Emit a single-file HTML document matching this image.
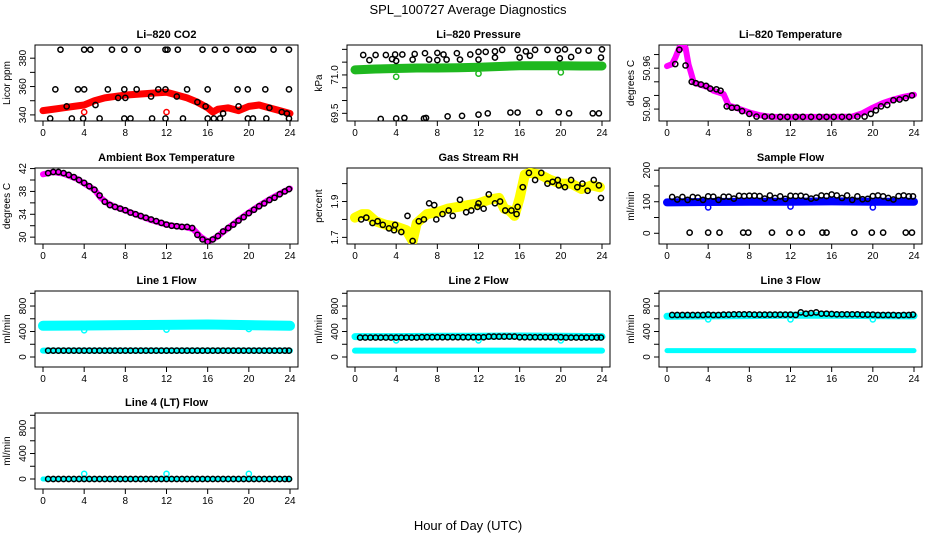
<!DOCTYPE html>
<html><head><meta charset="utf-8">
<style>
html,body{margin:0;padding:0;background:#fff;}
svg{display:block;font-family:"Liberation Sans",sans-serif;}
</style></head>
<body>
<svg id="chart" width="936" height="540" viewBox="0 0 936 540" xmlns="http://www.w3.org/2000/svg">
<text x="468" y="14" text-anchor="middle" font-size="13">SPL_100727  Average Diagnostics</text>
<text x="468" y="530" text-anchor="middle" font-size="13">Hour of Day (UTC)</text>
</svg>
<script>
// ---- data arrays ----
const xTicks=[0,4,8,12,16,20,24];
const flowHours=[0.5,1,1.5,2,2.5,3,3.5,4,4.5,5,5.5,6,6.5,7,7.5,8,8.5,9,9.5,10,10.5,11,11.5,12,12.5,13,13.5,14,14.5,15,15.5,16,16.5,17,17.5,18,18.5,19,19.5,20,20.5,21,21.5,22,22.5,23,23.5,23.9];
const outlierHours=[4,12,20];

// CO2
const co2BandH=[0,1,2,3,4,5,6,7,8,9,10,11,12,13,14,15,16,16.5,17,18,19,20,21,22,23,24];
const co2BandV=[343,344,345,346,347,350,352,353,354,354.5,355,355.5,356,354,352,349,345,342,344,345,343,346,347,345,343,341];
const co2CircH=[1.7,4,4.6,6.7,7.9,9.2,11.9,12.1,13.1,15.5,16.7,17.8,19.1,19.9,20.4,22.4,23.9,1.2,3.4,4,6.3,7.9,9.1,11.2,11.9,14,16,18.9,19.9,21.6,23.9,0.7,2.8,3.9,5.5,7.9,8.5,10.6,11.9,13.6,16,16.6,17.2,19.9,20.4,21.7,23.9,2.3,5.1,7.3,8,10.5,13,15,15.8,17.5,19,22,23.2,23.7];
const co2CircV=[386,386,386,386,386,386,386,386,386,386,386,386,386,386,386,386,386,358,358,358,358,358,358,358,358,358,358,358,358,358,358,337.5,337.5,337.5,337.5,337.5,337.5,337.5,337.5,337.5,337.5,337.5,337.5,337.5,337.5,337.5,337.5,346,347,352,352,353,353,349,346,341,346,345,342,341];
const co2OutH=[4,12];
const co2OutV=[342,342];
// Pressure
const presBandH=[0,2,4,6,8,10,12,14,16,18,20,22,24];
const presBandV=[71.2,71.23,71.25,71.27,71.27,71.28,71.3,71.33,71.36,71.36,71.36,71.35,71.35];
const presCircH=[0.8,2,3,3.9,4.6,5.8,6.8,8,8.6,9.9,11.2,12,12.7,13.6,14.3,15.8,16.6,17.5,18.7,19.7,20.4,21.7,22.7,24,1.4,3.6,4,5.6,7.2,8,8.9,10.2,12,13.6,16,17,19.9,21,23.9,2.5,4,4.8,6.7,6.9,9,10.4,12,12.9,15.1,15.8,17.9,19.8,20.8,23.1,23.7];
const presCircV=[71.78,71.78,71.78,71.8,71.8,71.82,71.85,71.86,71.8,71.85,71.8,71.9,71.9,71.92,71.98,71.98,71.92,71.98,71.98,71.97,72.0,71.95,71.95,72.0,71.58,71.62,71.55,71.6,71.6,71.58,71.6,71.6,71.6,71.68,71.68,71.75,71.65,71.7,71.68,69.28,69.3,69.32,69.3,69.32,69.38,69.4,69.45,69.5,69.53,69.53,69.53,69.54,69.5,69.5,69.5];
const presOutV=[70.93,71.05,71.1];
// Li-820 temperature
const tempBandH=[0,0.5,0.8,1.2,1.8,2.1,2.3,2.6,3,4,4.5,5.5,6,6.5,8,9,10,12,14,16,18,19,20,21,22,23,24];
const tempBandV=[50.963,50.966,50.975,50.99,50.99,50.965,50.955,50.939,50.937,50.932,50.927,50.922,50.905,50.903,50.895,50.891,50.8888,50.8885,50.8885,50.8885,50.889,50.894,50.902,50.909,50.914,50.918,50.921];
const tempCircH=[0.8,1.2,1.8,2.4,2.8,3.3,3.8,4.2,4.8,5.2,5.8,6.3,6.8,7.3,8,8.7,9.5,10.2,11,11.7,12.5,13.2,14,14.8,15.5,16.2,17,17.7,18.5,19.2,19.8,20.3,20.8,21.4,22,22.6,23.2,23.8];
const tempCircV=[50.966,50.987,50.964,50.94,50.938,50.936,50.934,50.93,50.929,50.927,50.904,50.902,50.902,50.897,50.893,50.889,50.889,50.889,50.8885,50.8885,50.8885,50.8885,50.8885,50.8885,50.8885,50.8885,50.8885,50.8885,50.889,50.889,50.893,50.898,50.904,50.906,50.913,50.914,50.916,50.92];
// Ambient box temperature
const ambBandH=[0,1,2,3.3,4,5,5.6,6.2,7,7.5,9,10.5,12,13,14,14.6,15.3,16,16.5,17,18,19,20,21,22,23,24];
const ambBandV=[41.0,41.4,41.1,40.2,39.4,38.3,36.9,36,35.3,35,34,33,32.2,31.9,31.7,31.4,30.1,29.2,29.6,30.2,31.6,33,34.3,35.5,36.6,37.6,38.5];
const ambCircH=[0.5,1,1.5,2,2.5,3,3.5,4,4.5,5,5.5,6,6.5,7,7.5,8,8.5,9,9.5,10,10.5,11,11.5,12,12.5,13,13.5,14,14.5,15,15.5,16,16.5,17,17.5,18,18.5,19,19.5,20,20.5,21,21.5,22,22.5,23,23.5,23.9];
const ambCircV=[41.2,41.4,41.4,41.2,40.9,40.5,40.0,39.5,38.9,38.3,37.3,36.2,35.6,35.3,35.0,34.7,34.3,34.0,33.7,33.4,33.1,32.8,32.5,32.2,32.0,31.9,31.8,31.8,31.6,30.4,29.6,29.2,29.6,30.2,31.0,31.6,32.2,32.9,33.5,34.2,34.8,35.4,35.9,36.5,36.9,37.5,38.0,38.4];
// Gas stream RH
const rhBandH=[0,0.7,1.2,2,3,4,5,5.6,6,7,8,9,10,11,12,13,14,14.5,15,15.5,16,16.5,17,18,19,20,21,22,23,23.8];
const rhBandV=[1.81,1.83,1.83,1.79,1.77,1.76,1.74,1.68,1.78,1.83,1.84,1.86,1.87,1.88,1.89,1.91,1.92,1.86,1.85,1.82,1.92,2.05,2.06,2.05,2.02,2.0,2.0,1.97,1.99,1.98];
const rhCircH=[0.6,1.1,1.7,2.2,2.7,3.3,3.8,3.9,4.5,5.1,5.6,6.2,6.7,7.2,7.7,7.9,8.5,9.1,9.5,10.2,10.8,11.3,11.9,12,12.5,13,13.6,14.1,14.6,15.2,15.7,15.8,16.3,16.9,17.5,18.1,18.7,19.2,19.7,19.8,20.4,21,21.6,22.1,22.6,23.2,23.7,23.9];
const rhCircV=[1.80,1.81,1.78,1.79,1.77,1.75,1.74,1.77,1.73,1.82,1.68,1.79,1.80,1.89,1.88,1.80,1.83,1.85,1.82,1.91,1.84,1.85,1.87,1.89,1.86,1.94,1.89,1.90,1.85,1.85,1.83,1.87,1.98,2.06,2.02,2.06,2.0,2.01,2.02,1.99,1.98,2.02,1.98,2.0,1.96,2.02,1.99,1.92];
// Sample flow
const sampBandH=[0,4,8,12,16,20,24];
const sampBandV=[98,99,100,100,101,100,100];
const sampCircV=[115,107,115,106,115,113,106,117,116,106,116,116,110,119,118,119,119,118,110,120,112,117,109,119,118,119,116,110,113,120,118,123,120,112,120,106,117,108,109,118,120,117,112,107,118,120,117,117];
const sampZeroH=[2.2,4,5.1,7.4,7.9,10.2,11.9,13.1,15.1,15.5,18.2,19.9,21,23.2,23.8];
const sampZeroV=[2,2,2,2,2,2,2,2,2,2,2,2,2,2,2];
const sampOutV=[82,85,82];
// Line flows
const l1HighH=[0,4,8,12,16,20,24];
const l1HighV=[490,495,500,505,510,500,490];
const l1LowV=[100,100,100,100,100,100,100];
const l1CircV=[100,100,100,100,100,100,100,100,100,100,100,100,100,100,100,100,100,100,100,100,100,100,100,100,100,100,100,100,100,100,100,100,100,100,100,100,100,100,100,100,100,100,100,100,100,100,100,100];
const l1OutV=[420,430,440];
const l2HighV=[320,320,325,325,330,325,320];
const l2LowV=[100,100,100,100,100,100,100];
const l2CircV=[305,305,305,305,305,305,305,305,305,305,305,305,310,310,310,310,310,310,310,310,310,310,310,310,310,320,320,320,320,320,320,310,310,310,310,310,310,310,310,310,305,305,305,305,305,305,305,305];
const l2OutV=[260,260,260];
const l3HighV=[640,645,650,655,655,650,645];
const l3LowV=[100,100,100,100,100,100,100];
const l3CircV=[660,660,660,660,660,660,660,665,660,660,665,665,670,670,670,670,665,665,665,665,665,665,665,665,660,700,680,690,700,680,680,675,670,670,670,670,670,665,665,665,660,660,660,660,655,660,660,665];
const l3OutV=[590,590,590];
const l4BandV=[0,0,0,0,0,0,0];
const l4CircV=[0,0,0,0,0,0,0,0,0,0,0,0,0,0,0,0,0,0,0,0,0,0,0,0,0,0,0,0,0,0,0,0,0,0,0,0,0,0,0,0,0,0,0,0,0,0,0,0];
const l4OutV=[80,80,80];

// ---- drawing ----
const svg=document.getElementById('chart');
const NS='http://www.w3.org/2000/svg';
const colX=[35,347,659], rowY=[45,168,291,413], PW=263, PH=76;
function mk(tag,attrs,parent){const e=document.createElementNS(NS,tag);for(const k in attrs)e.setAttribute(k,attrs[k]);(parent||svg).appendChild(e);return e;}

function panel(col,row,slug,title,ylab,ylim,yticks,ylabels,draw){
  const L=colX[col],T=rowY[row];
  const g=mk('g',{});
  
  
  const xs=h=>L+8+h*247/24;
  const ys=v=>T+PH-(v-ylim[0])/(ylim[1]-ylim[0])*PH;
  const t=mk('text',{x:L+PW/2,y:T-7,'text-anchor':'middle','font-size':11,'font-weight':'bold'},g);
  t.textContent=title;
  
  
  const box=mk('rect',{x:L,y:T,width:PW,height:PH,fill:'none',stroke:'#000','stroke-width':1},g);
  
  
  const xa=mk('g',{},g);
  
  
  mk('line',{x1:xs(xTicks[0]),x2:xs(xTicks[xTicks.length-1]),y1:T+PH,y2:T+PH,stroke:'#000'},xa);
  xTicks.forEach(v=>{
    mk('line',{x1:xs(v),x2:xs(v),y1:T+PH,y2:T+PH+5,stroke:'#000'},xa);
    const tl=mk('text',{x:xs(v),y:T+PH+15,'text-anchor':'middle','font-size':10},xa);
    tl.textContent=v;
    
    
  });
  const ya=mk('g',{},g);
  
  
  mk('line',{x1:L,x2:L,y1:ys(yticks[0]),y2:ys(yticks[yticks.length-1]),stroke:'#000'},ya);
  yticks.forEach(v=>{mk('line',{x1:L-5,x2:L,y1:ys(v),y2:ys(v),stroke:'#000'},ya);});
  ylabels.forEach(v=>{
    const yy=ys(parseFloat(v));
    const tl=mk('text',{x:L-9,y:yy,'text-anchor':'middle','font-size':10,transform:`rotate(-90 ${L-9} ${yy})`},ya);
    tl.textContent=v;
    
    
  });
  const yl=mk('text',{x:L-25,y:T+PH/2,'text-anchor':'middle','font-size':10,transform:`rotate(-90 ${L-25} ${T+PH/2})`},g);
  yl.textContent=ylab;
  
  
  const clip='clip'+slug;
  const cp=mk('clipPath',{id:clip},g);mk('rect',{x:L,y:T,width:PW,height:PH},cp);
  const dg=mk('g',{'clip-path':`url(#${clip})`},g);
  const api={
    band(hs,vs,color,w,name){
      const p=mk('polyline',{points:hs.map((h,i)=>xs(h)+','+ys(vs[i])).join(' '),fill:'none',stroke:color,'stroke-width':w,'stroke-linejoin':'round','stroke-linecap':'round'},dg);
      
      
    },
    pts(hs,vs,color,name,r){
      const pg=mk('g',{},dg);
      
      
      hs.forEach((h,i)=>{
        const c=mk('circle',{cx:xs(h),cy:ys(vs[i]),r:r||2.6,fill:'none',stroke:color,'stroke-width':1.5},pg);
        
        
      });
    }
  };
  draw(api);
}
const BLK='#000', CY='#00ffff';
panel(0,0,'co2','Li\u2013820 CO2','Licor ppm',[335.7,389.3],[340,350,360,370,380],['340','360','380'],a=>{
  a.band(co2BandH,co2BandV,'#ff0000',7,'red-band');
  a.pts(co2OutH,co2OutV,'#ff0000','red-outliers');
  a.pts(co2CircH,co2CircV,BLK,'black-points');
});
panel(1,0,'pressure','Li\u2013820 Pressure','kPa',[69.2,72.17],[69.5,70,70.5,71,71.5,72],['69.5','71.0'],a=>{
  a.band(presBandH,presBandV,'#1fb81f',9,'green-band');
  a.pts(outlierHours,presOutV,'#1fb81f','green-outliers');
  a.pts(presCircH,presCircV,BLK,'black-points');
});
panel(2,0,'temperature','Li\u2013820 Temperature','degrees C',[50.8825,50.994],[50.90,50.92,50.94,50.96,50.98],['50.90','50.96'],a=>{
  a.band(tempBandH,tempBandV,'#ff00ff',6,'magenta-band');
  a.pts(tempCircH,tempCircV,BLK,'black-points');
});
panel(0,1,'ambient','Ambient Box Temperature','degrees C',[28.8,42.1],[30,32,34,36,38,40,42],['30','34','38','42'],a=>{
  a.band(ambBandH,ambBandV,'#ff00ff',6,'magenta-band');
  a.pts(ambCircH,ambCircV,BLK,'black-points');
});
panel(1,1,'rh','Gas Stream RH','percent',[1.663,2.087],[1.7,1.8,1.9,2.0],['1.7','1.9'],a=>{
  a.band(rhBandH,rhBandV,'#ffff00',10,'yellow-band');
  a.pts(rhCircH,rhCircV,BLK,'black-points');
});
panel(2,1,'sample-flow','Sample Flow','ml/min',[-34,207],[0,50,100,150,200],['0','100','200'],a=>{
  a.band(sampBandH,sampBandV,'#0000ff',8,'blue-band');
  a.pts(outlierHours,sampOutV,'#0000ff','blue-outliers');
  a.pts(flowHours,sampCircV,BLK,'black-points');
  a.pts(sampZeroH,sampZeroV,BLK,'zero-points');
});
const flowY=[-157,1036], flowT=[0,200,400,600,800,1000], flowL=['0','400','800'];
panel(0,2,'line1-flow','Line 1 Flow','ml/min',flowY,flowT,flowL,a=>{
  a.band(l1HighH,l1HighV,CY,10,'cyan-high-band');
  a.band(l1HighH,l1LowV,CY,6,'cyan-low-band');
  a.pts(outlierHours,l1OutV,CY,'cyan-outliers');
  a.pts(flowHours,l1CircV,BLK,'black-points');
});
panel(1,2,'line2-flow','Line 2 Flow','ml/min',flowY,flowT,flowL,a=>{
  a.band(l1HighH,l2HighV,CY,7,'cyan-high-band');
  a.band(l1HighH,l2LowV,CY,6,'cyan-low-band');
  a.pts(outlierHours,l2OutV,CY,'cyan-outliers');
  a.pts(flowHours,l2CircV,BLK,'black-points');
});
panel(2,2,'line3-flow','Line 3 Flow','ml/min',flowY,flowT,flowL,a=>{
  a.band(l1HighH,l3HighV,CY,7,'cyan-high-band');
  a.band(l1HighH,l3LowV,CY,5,'cyan-low-band');
  a.pts(outlierHours,l3OutV,CY,'cyan-outliers');
  a.pts(flowHours,l3CircV,BLK,'black-points');
});
panel(0,3,'line4-flow','Line 4 (LT) Flow','ml/min',flowY,flowT,flowL,a=>{
  a.band(l1HighH,l4BandV,CY,5,'cyan-band');
  a.pts(outlierHours,l4OutV,CY,'cyan-outliers');
  a.pts(flowHours,l4CircV,BLK,'black-points');
});
</script>
</body></html>
